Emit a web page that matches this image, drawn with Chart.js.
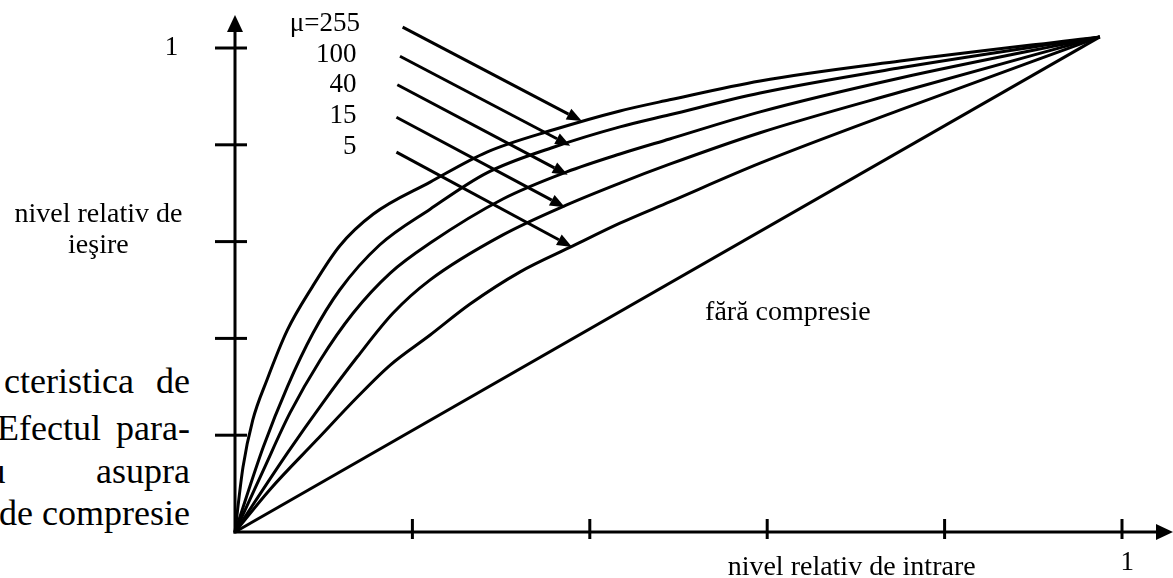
<!DOCTYPE html>
<html>
<head>
<meta charset="utf-8">
<script src="https://cdn.jsdelivr.net/npm/chart.js@4.4.0/dist/chart.umd.min.js"></script>
<style>
  html, body { margin: 0; padding: 0; background: #fff; }
  body { width: 1173px; height: 578px; position: relative; overflow: hidden; font-family: "Liberation Serif", "Times New Roman", serif; color: #000; }
  #grafico { position: absolute; left: 0; top: 0; }
  .linha { position: absolute; display: flex; justify-content: space-between; font-size: 36px; line-height: 44px; height: 44px; white-space: nowrap; }
</style>
</head>
<body>
<!-- resto do paragrafo da pagina, cortado pela margem -->
<div class="linha" style="left:4px;top:359px;width:186px"><span>cteristica</span><span>de</span></div>
<div class="linha" style="left:-3px;top:406px;width:193px"><span>Efectul</span><span>para-</span></div>
<div class="linha" style="left:-13px;top:449px;width:203px"><span>μ</span><span>asupra</span></div>
<div class="linha" style="left:0;top:491px;width:190px;justify-content:flex-end"><span>de compresie</span></div>

<canvas id="grafico" width="1173" height="578"></canvas>

<script>
// curvas: [entrada, saida]
const mu255 = [[0,0],[0.009,0.134],[0.020,0.231],[0.036,0.314],[0.059,0.417],[0.087,0.506],[0.118,0.591],[0.156,0.657],[0.220,0.723],[0.284,0.785],[0.359,0.831],[0.434,0.870],[0.490,0.893],[0.592,0.932],[0.750,0.973],[0.975,1.023]];
const mu100 = [[0,0],[0.032,0.176],[0.059,0.300],[0.088,0.411],[0.118,0.500],[0.163,0.593],[0.220,0.667],[0.284,0.742],[0.359,0.795],[0.434,0.837],[0.490,0.862],[0.592,0.907],[0.750,0.959],[0.975,1.023]];
const mu40 = [[0,0],[0.032,0.128],[0.062,0.246],[0.096,0.355],[0.133,0.452],[0.175,0.535],[0.220,0.597],[0.302,0.688],[0.374,0.744],[0.434,0.781],[0.490,0.812],[0.592,0.868],[0.750,0.938],[0.975,1.023]];
const mu15 = [[0,0],[0.059,0.163],[0.099,0.267],[0.138,0.362],[0.178,0.452],[0.220,0.521],[0.302,0.614],[0.374,0.676],[0.434,0.721],[0.490,0.760],[0.592,0.825],[0.750,0.909],[0.975,1.023]];
const mu5 = [[0,0],[0.039,0.087],[0.092,0.190],[0.138,0.279],[0.175,0.345],[0.220,0.407],[0.265,0.471],[0.321,0.537],[0.381,0.591],[0.434,0.638],[0.490,0.682],[0.592,0.762],[0.750,0.872],[0.975,1.023]];
const semCompressao = [[0,0],[0.975,1.023]];

const valoresMu = ["μ=255", "100", "40", "15", "5"];
const ticksEixo = [0.2, 0.4, 0.6, 0.8, 1];

// setas das etiquetas: [x inicio, y inicio, x ponta, y ponta]
const setas = [
  [0.189, 1.043, 0.391, 0.849],
  [0.186, 0.983, 0.378, 0.798],
  [0.183, 0.924, 0.375, 0.738],
  [0.182, 0.857, 0.372, 0.671],
  [0.182, 0.785, 0.380, 0.589]
];
// posicao das etiquetas mu (alinhadas a direita)
const posMu = [[0.141, 1.035], [0.137, 0.972], [0.137, 0.910], [0.137, 0.846], [0.137, 0.781]];

function pontos(arr) {
  return arr.map(([x, y]) => ({ x, y }));
}

function seta(ctx, x1, y1, x2, y2, comp, larg) {
  const a = Math.atan2(y2 - y1, x2 - x1);
  const bx = x2 - comp * Math.cos(a), by = y2 - comp * Math.sin(a);
  ctx.beginPath();
  ctx.moveTo(x1, y1);
  ctx.lineTo(bx, by);
  ctx.stroke();
  ctx.beginPath();
  ctx.moveTo(x2, y2);
  ctx.lineTo(bx + larg * Math.sin(a), by - larg * Math.cos(a));
  ctx.lineTo(bx - larg * Math.sin(a), by + larg * Math.cos(a));
  ctx.closePath();
  ctx.fill();
}

const eixos = {
  id: "eixos",
  beforeDatasetsDraw(chart) {
    const { ctx, chartArea, scales: { x, y } } = chart;
    const x0 = x.getPixelForValue(0), y0 = y.getPixelForValue(0);
    ctx.save();
    ctx.strokeStyle = "#000";
    ctx.fillStyle = "#000";
    ctx.lineWidth = 3;
    ctx.lineCap = "butt";
    seta(ctx, x0, y0 + 1.5, x0, chartArea.top, 17, 8);
    seta(ctx, x0 - 1.5, y0, chartArea.right, y0, 17, 8);
    ticksEixo.forEach(v => {
      const py = y.getPixelForValue(v);
      ctx.beginPath();
      ctx.moveTo(x0 - 20, py);
      ctx.lineTo(x0 + 12, py);
      ctx.stroke();
      const px = x.getPixelForValue(v);
      ctx.beginPath();
      ctx.moveTo(px, y0 - 13);
      ctx.lineTo(px, y0 + 7);
      ctx.stroke();
    });
    ctx.restore();
  },
  afterDatasetsDraw(chart) {
    const { ctx, scales: { x, y } } = chart;
    ctx.save();
    ctx.strokeStyle = "#000";
    ctx.fillStyle = "#000";
    ctx.lineWidth = 3;
    setas.forEach(([a, b, c, d]) => {
      seta(ctx, x.getPixelForValue(a), y.getPixelForValue(b), x.getPixelForValue(c), y.getPixelForValue(d), 15, 6);
    });

    ctx.font = '27px "Liberation Serif"';
    ctx.textBaseline = "alphabetic";
    ctx.textAlign = "right";
    valoresMu.forEach((t, i) => {
      ctx.fillText(t, x.getPixelForValue(posMu[i][0]), y.getPixelForValue(posMu[i][1]));
    });

    ctx.font = '28px "Liberation Serif"';
    ctx.fillText("nivel relativ de intrare", x.getPixelForValue(0.835), y.getPixelForValue(-0.089));
    ctx.textAlign = "left";
    ctx.fillText("fără compresie", x.getPixelForValue(0.530), y.getPixelForValue(0.438));
    ctx.textAlign = "center";
    ctx.fillText("nivel relativ de", x.getPixelForValue(-0.154), y.getPixelForValue(0.640));
    ctx.fillText("ieşire", x.getPixelForValue(-0.154), y.getPixelForValue(0.576));

    ctx.font = '27px "Liberation Serif"';
    ctx.fillText("1", x.getPixelForValue(-0.0716), y.getPixelForValue(0.9855));
    ctx.fillText("1", x.getPixelForValue(1.006), y.getPixelForValue(-0.0785));
    ctx.restore();
  }
};

function serie(dados) {
  return {
    data: pontos(dados),
    borderColor: "#000",
    borderWidth: 3,
    pointRadius: 0,
    fill: false,
    cubicInterpolationMode: "monotone",
    clip: false
  };
}

new Chart(document.getElementById("grafico"), {
  type: "line",
  data: {
    datasets: [serie(mu255), serie(mu100), serie(mu40), serie(mu15), serie(mu5), serie(semCompressao)]
  },
  options: {
    responsive: false,
    animation: false,
    devicePixelRatio: 1,
    layout: { padding: { left: 235, right: 0, top: 15, bottom: 46 } },
    scales: {
      x: { type: "linear", min: 0, max: 1.0575, display: false },
      y: { type: "linear", min: 0, max: 1.0682, display: false }
    },
    plugins: {
      legend: { display: false },
      tooltip: { enabled: false }
    }
  },
  plugins: [eixos]
});
</script>
</body>
</html>
